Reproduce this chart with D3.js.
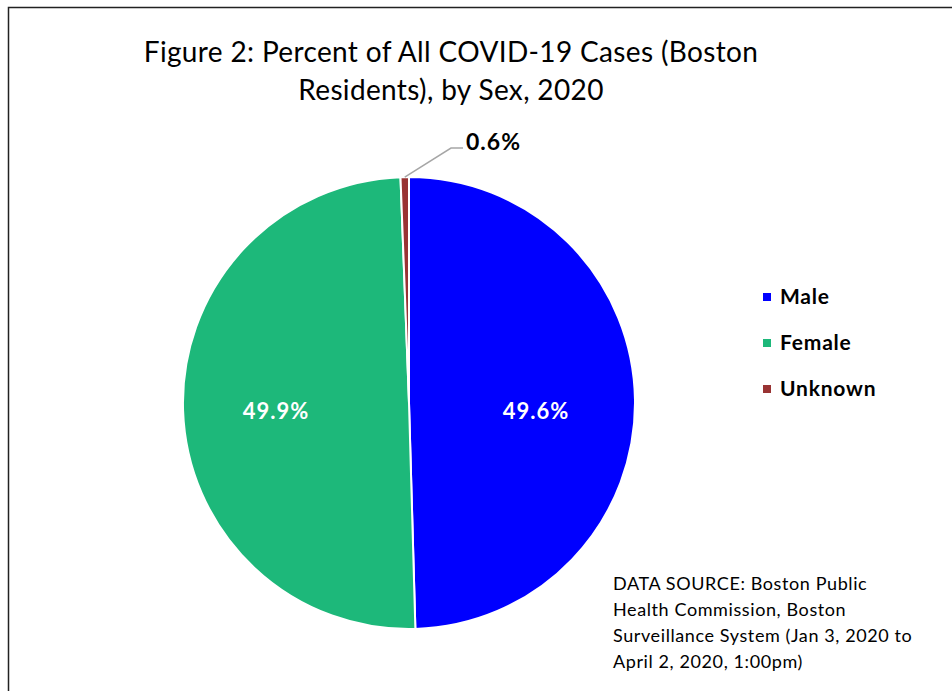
<!DOCTYPE html>
<html>
<head>
<meta charset="utf-8">
<script src="https://cdn.jsdelivr.net/npm/d3@7"></script>
<style>
  body { margin: 0; background: #fff; }
  text { font-family: Lato, "Open Sans", sans-serif; }
</style>
</head>
<body>
<div id="chart"></div>
<script>
// data
const categories = ['Male', 'Female', 'Unknown'];
const percents = [49.6, 49.9, 0.6];
const colors = ['#0000FF', '#1DB87A', '#993333'];
const titleLines = ['Figure 2: Percent of All COVID-19 Cases (Boston', 'Residents), by Sex, 2020'];
const sourceLines = ['DATA SOURCE: Boston Public', 'Health Commission, Boston', 'Surveillance System (Jan 3, 2020 to', 'April 2, 2020, 1:00pm)'];

const width = 952, height = 691;
const cx = 409, cy = 403, radius = 226;

const svg = d3.select('#chart').append('svg')
    .attr('width', width)
    .attr('height', height);

// frame
svg.append('rect')
    .attr('x', 8.5).attr('y', 7.5)
    .attr('width', width + 10).attr('height', height + 10)
    .attr('fill', 'none')
    .attr('stroke', '#222')
    .attr('stroke-width', 1.5);

// title
svg.append('g').selectAll('text')
    .data(titleLines)
    .join('text')
    .attr('x', 451)
    .attr('y', (d, i) => 62 + i * 38)
    .attr('text-anchor', 'middle')
    .attr('font-size', 28)
    .attr('letter-spacing', 0.35)
    .attr('fill', '#000')
    .text(d => d);

const data = categories.map((c, i) => ({ name: c, value: percents[i], color: colors[i] }));

const pie = d3.pie().sort(null).value(d => d.value);
const arcs = pie(data);
const arc = d3.arc().innerRadius(0).outerRadius(radius);

const g = svg.append('g').attr('transform', `translate(${cx},${cy})`);

g.selectAll('path')
    .data(arcs)
    .join('path')
    .attr('d', arc)
    .attr('fill', d => d.data.color)
    .attr('stroke', '#fff')
    .attr('stroke-width', 2);

// inside labels for big slices (kept on one horizontal line, like Excel)
const labelArc = d3.arc().innerRadius(radius * 0.575).outerRadius(radius * 0.575);
g.selectAll('text.inner')
    .data(arcs.filter(d => d.data.value > 5))
    .join('text')
    .attr('class', 'inner')
    .attr('transform', d => `translate(${labelArc.centroid(d)[0] - 3},8)`)
    .attr('text-anchor', 'middle')
    .attr('dy', '0.35em')
    .attr('font-size', 22)
    .attr('letter-spacing', 1)
    .attr('font-weight', 'bold')
    .attr('fill', '#fff')
    .text(d => d.data.value.toFixed(1) + '%');

// small slice label with leader line
const small = arcs.filter(d => d.data.value <= 5);
small.forEach(d => {
    const a = (d.startAngle + d.endAngle) / 2;
    const p0 = [Math.sin(a) * radius, -Math.cos(a) * radius];
    const p1 = [42, -255];
    const p2 = [54, -255];
    g.append('polyline')
        .attr('points', [p0, p1, p2].map(p => p.join(',')).join(' '))
        .attr('fill', 'none')
        .attr('stroke', '#A6A6A6')
        .attr('stroke-width', 1.5);
    g.append('text')
        .attr('x', p2[0] + 3)
        .attr('y', p2[1] - 6)
        .attr('dy', '0.35em')
        .attr('font-size', 23)
        .attr('letter-spacing', 1)
        .attr('font-weight', 'bold')
        .attr('fill', '#000')
        .text(d.data.value.toFixed(1) + '%');
});

// legend
const legend = svg.append('g').attr('transform', 'translate(763,297)');
const items = legend.selectAll('g')
    .data(data)
    .join('g')
    .attr('transform', (d, i) => `translate(0,${i * 46})`);
items.append('rect')
    .attr('x', 0).attr('y', -4)
    .attr('width', 8).attr('height', 8)
    .attr('fill', d => d.color);
items.append('text')
    .attr('x', 17)
    .attr('dy', '0.35em')
    .attr('font-size', 21)
    .attr('letter-spacing', 0.8)
    .attr('font-weight', 'bold')
    .attr('fill', '#000')
    .text(d => d.name);

// data source note
svg.append('g').selectAll('text')
    .data(sourceLines)
    .join('text')
    .attr('x', 613)
    .attr('y', (d, i) => 590 + i * 26)
    .attr('font-size', 18)
    .attr('letter-spacing', 0.6)
    .attr('fill', '#000')
    .text(d => d);
</script>
</body>
</html>
